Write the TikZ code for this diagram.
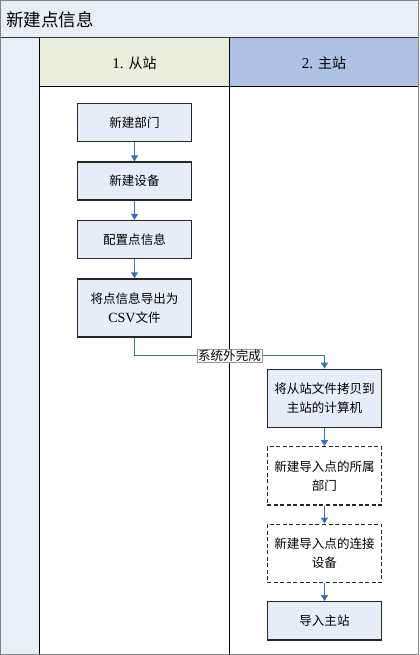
\documentclass[tikz,border=0pt]{standalone}
\usepackage{fontspec}
\setmainfont{Liberation Serif}
\newfontfamily\cjk{Noto Sans CJK SC}
\usetikzlibrary{arrows.meta,positioning}
\definecolor{bandblue}{HTML}{E8EEF8}
\definecolor{laneone}{HTML}{E9EDDB}
\definecolor{lanetwo}{HTML}{AEC2E5}
\definecolor{boxblue}{HTML}{E6EDF8}
\definecolor{arrowblue}{HTML}{3D6DB3}

\begin{document}
\begin{tikzpicture}[x=1pt, y=-1pt,
    node distance=19pt,
    stepbox/.style={draw=black!85, line width=1.3pt, fill=boxblue, minimum width=114pt, minimum height=38pt, align=center, inner sep=2pt, font=\cjk\fontsize{12.5}{19}\selectfont},
    tallbox/.style={stepbox, minimum height=58pt},
    extbox/.style={tallbox, dash pattern=on 4pt off 2.5pt, fill=white},
    arrow/.style={-{Triangle[width=7pt,length=6pt]}, line width=1.3pt, draw=arrowblue},
    lanehead/.style={font=\fontsize{15}{17}\selectfont}
]
    % pool frame
    \fill[bandblue] (1,1) rectangle (418,38);
    \fill[bandblue] (1,38) rectangle (40,653);
    \fill[laneone] (40,38) rectangle (229,87);
    \fill[lanetwo] (229,38) rectangle (418,87);
    \draw[line width=1pt, black!80] (1,38) -- (418,38);
    \draw[line width=1.2pt, black] (40,38) -- (40,653) (229,38) -- (229,653) (40,87) -- (418,87);
    \draw[line width=1.3pt, black!50] (1,1) rectangle (418,653);

    \node[anchor=west, font=\cjk\fontsize{17.5}{20}\selectfont] (pool) at (3,20) {新建点信息};
    \node[lanehead] (slave) at (134.5,63) {1. {\cjk\fontsize{14}{17}\selectfont 从站}};
    \node[lanehead] (master) at (323.5,63) {2. {\cjk\fontsize{14}{17}\selectfont 主站}};

    % lane 1
    \node[stepbox, anchor=north] (dept) at (134.5,103) {新建部门};
    \node[stepbox, below=of dept] (dev) {新建设备};
    \node[stepbox, below=of dev] (conf) {配置点信息};
    \node[tallbox, below=of conf] (export) {将点信息导出为\\{\rmfamily\fontsize{14}{19}\selectfont CSV}文件};

    % lane 2
    \node[tallbox, anchor=north] (copy) at (324,368) {将从站文件拷贝到\\主站的计算机};
    \node[extbox, below=18pt of copy] (newdept) {新建导入点的所属\\部门};
    \node[extbox, below=18pt of newdept] (newdev) {新建导入点的连接\\设备};
    \node[stepbox, below=18pt of newdev] (import) {导入主站};

    \draw[arrow] (dept) -- (dev);
    \draw[arrow] (dev) -- (conf);
    \draw[arrow] (conf) -- (export);
    \draw[arrow] (export.south) -- ++(0,18) -| node[pos=0.25, fill=white, draw=black!40, line width=0.5pt, inner sep=1pt, font=\cjk\fontsize{12.5}{14}\selectfont] (outside) {系统外完成} (copy.north);
    \draw[arrow] (copy) -- (newdept);
    \draw[arrow] (newdept) -- (newdev);
    \draw[arrow] (newdev) -- (import);
\end{tikzpicture}
\end{document}
